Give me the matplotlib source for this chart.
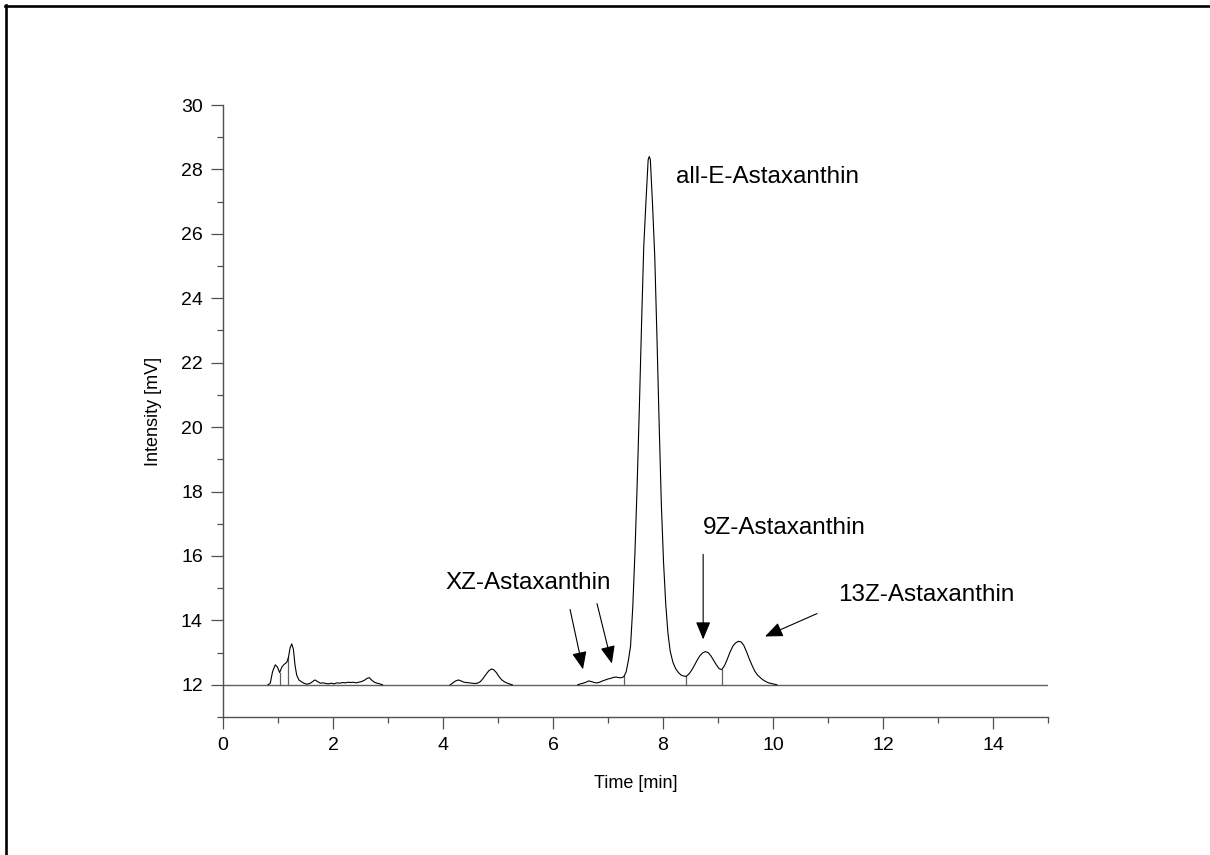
import matplotlib.pyplot as plt
from matplotlib.lines import Line2D
from matplotlib.ticker import MultipleLocator

plt.rcParams["font.family"] = ["Liberation Sans", "DejaVu Sans"]

# chromatogram trace (time [min], intensity [mV])
early_t = [0.82, 0.86, 0.90, 0.95, 0.99, 1.03, 1.07, 1.11, 1.16, 1.19, 1.22, 1.25,
           1.28, 1.31, 1.34, 1.38, 1.42, 1.47, 1.52, 1.58, 1.63, 1.67, 1.72, 1.77,
           1.82, 1.87, 1.92, 1.97, 2.02, 2.07, 2.12, 2.17, 2.22, 2.27, 2.32, 2.37,
           2.42, 2.47, 2.52, 2.57, 2.62, 2.66, 2.70, 2.75, 2.80, 2.85, 2.90]
early_i = [12.0, 12.05, 12.4, 12.62, 12.55, 12.38, 12.55, 12.63, 12.70, 12.85, 13.15, 13.27,
           13.1, 12.6, 12.3, 12.15, 12.1, 12.05, 12.02, 12.04, 12.1, 12.15, 12.1, 12.05,
           12.06, 12.04, 12.03, 12.05, 12.03, 12.06, 12.05, 12.07, 12.06, 12.08, 12.07, 12.08,
           12.06, 12.08, 12.10, 12.14, 12.2, 12.22, 12.15, 12.08, 12.05, 12.03, 12.0]

mid_t = [4.13, 4.18, 4.23, 4.28, 4.33, 4.38, 4.43, 4.48, 4.53, 4.58, 4.63, 4.68,
         4.73, 4.78, 4.83, 4.88, 4.92, 4.97, 5.02, 5.07, 5.12, 5.17, 5.22, 5.26]
mid_i = [12.0, 12.06, 12.12, 12.15, 12.12, 12.08, 12.07, 12.06, 12.05, 12.04, 12.05, 12.1,
         12.2, 12.32, 12.43, 12.49, 12.47, 12.38, 12.25, 12.15, 12.09, 12.05, 12.02, 12.0]

main_t = [6.45, 6.50, 6.55, 6.60, 6.65, 6.70, 6.75, 6.80, 6.85, 6.90, 6.95, 7.00,
          7.05, 7.10, 7.15, 7.20, 7.25, 7.29, 7.33, 7.37, 7.41, 7.45, 7.49, 7.53,
          7.57, 7.61, 7.65, 7.69, 7.73, 7.75, 7.77, 7.81, 7.85, 7.89, 7.93, 7.97,
          8.01, 8.05, 8.09, 8.13, 8.18, 8.23, 8.28, 8.33, 8.38, 8.42, 8.47, 8.52,
          8.57, 8.62, 8.67, 8.72, 8.77, 8.82, 8.87, 8.92, 8.97, 9.02, 9.07, 9.12,
          9.17, 9.22, 9.27, 9.32, 9.37, 9.42, 9.47, 9.52, 9.57, 9.62, 9.67, 9.72,
          9.77, 9.82, 9.87, 9.92, 9.97, 10.02, 10.07]
main_i = [12.0, 12.03, 12.05, 12.08, 12.12, 12.1, 12.07, 12.06, 12.08, 12.12, 12.15, 12.18,
          12.2, 12.23, 12.24, 12.22, 12.22, 12.26, 12.4, 12.75, 13.2, 14.4, 16.1, 18.2,
          20.6, 23.2, 25.6, 27.0, 28.3, 28.4, 28.3, 26.9, 25.3, 22.8, 20.1, 17.6,
          15.8, 14.5, 13.6, 13.05, 12.7, 12.5, 12.38, 12.3, 12.27, 12.26, 12.33, 12.45,
          12.6, 12.76, 12.9, 12.99, 13.03, 13.0, 12.9, 12.76, 12.62, 12.5, 12.47, 12.6,
          12.8, 13.02, 13.2, 13.3, 13.35, 13.33, 13.22, 13.02, 12.8, 12.6, 12.42, 12.3,
          12.22, 12.15, 12.1, 12.06, 12.04, 12.02, 12.0]

# integration drop lines
drop_t = [1.03, 1.19, 7.29, 8.42, 9.07]
drop_top = [12.38, 12.85, 12.26, 12.26, 12.47]

baseline = 12.0

# peak labels: text, text position, arrow tips
labels = ["all-E-Astaxanthin", "XZ-Astaxanthin", "9Z-Astaxanthin", "13Z-Astaxanthin"]
label_xy = [(8.24, 27.57), (4.04, 14.96), (8.73, 16.67), (11.18, 14.59)]
arrow_from = [(6.31, 14.34), (6.80, 14.52), (8.73, 16.05), (10.80, 14.21)]
arrow_to = [(6.545, 12.48), (7.07, 12.66), (8.73, 13.41), (9.855, 13.5)]

axis_grey = "#505050"

fig = plt.figure(figsize=(12.1, 8.55), dpi=100)
ax = fig.add_axes([223 / 1210, 1 - 717 / 855, 825 / 1210, 612 / 855])

ax.plot([0, 15], [baseline, baseline], color="#606060", linewidth=1.0)
for t, top in zip(drop_t, drop_top):
    ax.plot([t, t], [baseline, top], color="#606060", linewidth=0.9)

for tt, ii in [(early_t, early_i), (mid_t, mid_i), (main_t, main_i)]:
    ax.plot(tt, ii, color="black", linewidth=0.8)

for text, (x, y) in zip(labels, label_xy):
    ax.text(x, y, text, fontsize=17.5, ha="left", va="baseline")

for start, end in zip(arrow_from, arrow_to):
    ax.annotate(
        "",
        xy=end,
        xytext=start,
        arrowprops=dict(
            arrowstyle="-|>,head_length=0.6,head_width=0.25",
            color="black",
            lw=0.8,
            mutation_scale=18,
            shrinkA=0,
            shrinkB=0,
        ),
    )

ax.set_xlim(0, 15)
ax.set_ylim(11, 30)
ax.xaxis.set_major_locator(MultipleLocator(2))
ax.xaxis.set_minor_locator(MultipleLocator(1))
ax.yaxis.set_major_locator(MultipleLocator(2))
ax.yaxis.set_minor_locator(MultipleLocator(1))

for side in ["top", "right"]:
    ax.spines[side].set_visible(False)
for side in ["left", "bottom"]:
    ax.spines[side].set_color(axis_grey)
    ax.spines[side].set_linewidth(1.0)

ax.tick_params(which="major", length=8.5, width=0.9, color=axis_grey,
               labelsize=14, pad=6)
ax.tick_params(which="minor", length=4.3, width=0.9, color=axis_grey)

ax.set_xlabel("Time [min]", fontsize=13)
ax.set_ylabel("Intensity [mV]", fontsize=13)
ax.xaxis.set_label_coords(0.5, -0.095)
ax.yaxis.set_label_coords(-0.074, 0.5)

# frame around the picture (top and left edges only)
fig.add_artist(Line2D([5 / 1210, 1], [1 - 6 / 855, 1 - 6 / 855],
                      color="black", linewidth=1.9, transform=fig.transFigure))
fig.add_artist(Line2D([6 / 1210, 6 / 1210], [0, 1 - 5 / 855],
                      color="black", linewidth=1.9, transform=fig.transFigure))

fig.savefig("out.png", dpi=100)
